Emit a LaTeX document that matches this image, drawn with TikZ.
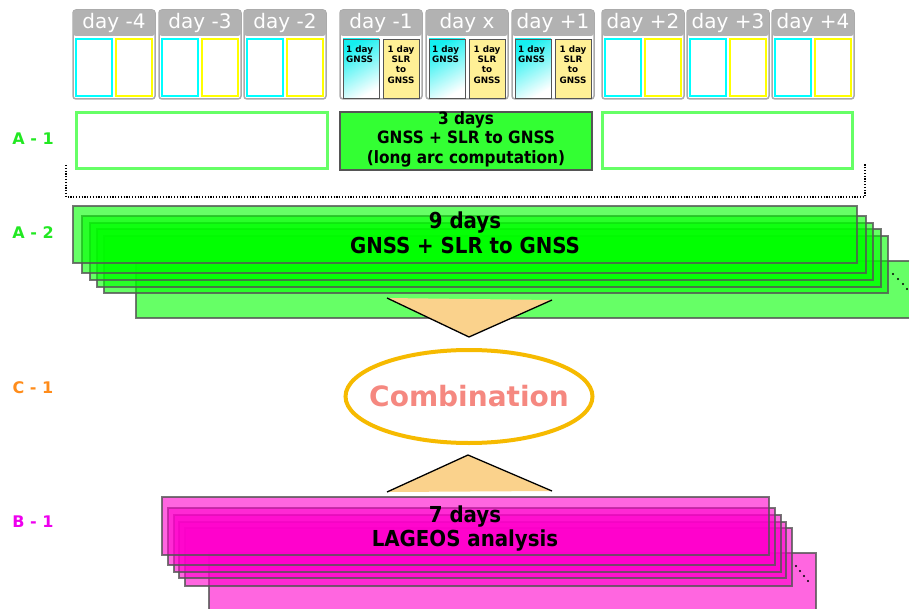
\documentclass[tikz,border=0pt]{standalone}
\usepackage{fontspec}
\setmainfont{DejaVu Sans}
\newfontfamily\condfont{DejaVu Sans Condensed}
\usetikzlibrary{shapes.geometric}
\definecolor{agreen}{RGB}{34,232,34}
\definecolor{corange}{RGB}{255,140,26}
\definecolor{bmag}{RGB}{238,0,238}
\definecolor{gfill}{RGB}{0,255,0}
\definecolor{mfill}{RGB}{255,0,204}
\definecolor{lgreen}{RGB}{102,255,102}
\definecolor{midgreen}{RGB}{51,255,51}
\definecolor{peach}{RGB}{250,210,140}
\definecolor{ellcol}{RGB}{246,186,0}
\definecolor{combcol}{RGB}{245,136,128}
\definecolor{hdrgray}{RGB}{178,178,178}
\definecolor{frmgray}{RGB}{170,170,170}
\definecolor{lyellow}{RGB}{255,240,150}
\definecolor{boxedge}{RGB}{85,85,85}
\definecolor{mycyan}{RGB}{0,255,255}
\definecolor{myyellow}{RGB}{255,255,0}
\definecolor{shcyan}{RGB}{20,240,240}
\tikzset{
  dayframe/.style={draw=frmgray, line width=1.5, fill=white, rounded corners=3},
  dayhead/.style={fill=hdrgray, rounded corners=3},
  daylabel/.style={text=white, font=\fontsize{20}{24}\selectfont, inner sep=0},
  cybox/.style={draw=mycyan, line width=2, minimum width=36, minimum height=57, inner sep=0},
  ylbox/.style={draw=myyellow, line width=2, minimum width=36, minimum height=57, inner sep=0},
  cyshade/.style={draw=boxedge, line width=0.8, minimum width=36, minimum height=59, inner sep=0,
     top color=shcyan, bottom color=white, shading angle=30},
  ylfill/.style={draw=boxedge, line width=0.8, fill=lyellow, minimum width=36, minimum height=59, inner sep=0},
  smalltxt/.style={font=\fontsize{8.8}{10.3}\selectfont\bfseries, inner sep=0, align=center},
  sidebox/.style={draw=lgreen, line width=3, fill=white},
  gstack/.style={fill=gfill, fill opacity=0.6, draw=boxedge, draw opacity=0.8, line width=1.2},
  mstack/.style={fill=mfill, fill opacity=0.6, draw=boxedge, draw opacity=0.8, line width=1.2},
  rowlab/.style={font=\fontsize{16}{19}\selectfont\bfseries, inner sep=0},
  bigtxt/.style={font=\condfont\fontsize{22}{24.5}\selectfont\bfseries, align=center, inner sep=0},
  dotline/.style={line width=1.2, dash pattern=on 1.2pt off 1.6pt},
  tri/.style={fill=peach},
  triedge/.style={draw=black, line width=1.3},
  dotmark/.style={fill=black, circle, inner sep=0, minimum size=2.2}
}
\begin{document}
\begin{tikzpicture}[x=1pt,y=-1pt]
\useasboundingbox (0,0) rectangle (909,609);

% ---- day boxes (plain) ----
\foreach \L/\lab/\nm in {73/{day -4}/m4, 159/{day -3}/m3, 244/{day -2}/m2, 602/{day +2}/p2, 687/{day +3}/p3, 772/{day +4}/p4}{
  \path[dayframe] (\L,10) rectangle (\L+82,99);
  \fill[dayhead] (\L,36) -- (\L,10) -- (\L+82,10) -- (\L+82,36) -- cycle;
  \node[daylabel] (h\nm) at (\L+41,22.5) {\lab};
  \node[cybox] (c\nm) at (\L+21,67.5) {};
  \node[ylbox] (y\nm) at (\L+61,67.5) {};
}
% ---- day boxes (filled) ----
\foreach \L/\lab/\nm in {340/{day -1}/m1, 426/{day x}/x0, 512/{day +1}/p1}{
  \path[dayframe] (\L,10) rectangle (\L+82,99);
  \fill[dayhead] (\L,36) -- (\L,10) -- (\L+82,10) -- (\L+82,36) -- cycle;
  \node[daylabel] (h\nm) at (\L+41,22.5) {\lab};
  \node[cyshade] (c\nm) at (\L+21,68.5) {};
  \node[ylfill] (y\nm) at (\L+61,68.5) {};
  \node[smalltxt, align=left, anchor=north west] (tc\nm) at (\L+6,45.5) {1 day\\GNSS};
  \node[smalltxt, anchor=north] (ty\nm) at (\L+61,45.5) {1 day\\SLR\\to\\GNSS};
}

% ---- A-1 row ----
\node[rowlab, text=agreen] (la1) at (33,139) {A - 1};
\draw[sidebox] (76,113) rectangle (327,169);
\draw[sidebox] (602,113) rectangle (852,169);
\draw[fill=midgreen, draw=boxedge, line width=1.5] (340,112) rectangle (592,170);
\node[bigtxt, font=\condfont\fontsize{17}{19.5}\selectfont\bfseries] (a1txt) at (466,139) {3 days\\GNSS + SLR to GNSS\\(long arc computation)};

% dotted bracket
\coordinate (brA) at (66,165);
\coordinate (brB) at (66,197);
\coordinate (brC) at (865,197);
\coordinate (brD) at (865,163);
\draw[dotline] (brA) -- (brB) -- (brC) -- (brD);

% ---- A-2 stack ----
\node[rowlab, text=agreen] (la2) at (33,233) {A - 2};
\path[gstack] (136,261) rectangle (930,318);
\path[gstack] (104,236) rectangle (888,293);
\path[gstack] (97,229) rectangle (881,287);
\path[gstack] (90,223) rectangle (873,280);
\path[gstack] (82,216) rectangle (866,273);
\path[gstack] (73,206) rectangle (857,263);
\node[bigtxt] (a2txt) at (465,233) {9 days\\GNSS + SLR to GNSS};
\foreach \i/\px/\py in {1/893/274, 2/898/279, 3/903/284, 4/907/289}{
  \node[dotmark] (ga\i) at (\px,\py) {};
}

% ---- down triangle ----
\coordinate (tdl) at (387,298);
\coordinate (tdr) at (552,300);
\coordinate (tdb) at (469,337);
\fill[tri] (tdl) -- (tdr) -- (tdb) -- cycle;
\draw[triedge] (tdl) -- (tdb) -- (tdr);

% ---- combination ----
\node[rowlab, text=corange] (lc1) at (33,388) {C - 1};
\node[ellipse, draw=ellcol, line width=4, minimum width=247, minimum height=93, inner sep=0] (comb) at (469,396.5) {};
\node[text=combcol, font=\fontsize{28}{32}\selectfont\bfseries, inner sep=0] (combtxt) at (comb.center) {Combination};

% ---- up triangle ----
\coordinate (tul) at (387,492);
\coordinate (tur) at (552,491);
\coordinate (tut) at (468,455);
\fill[tri] (tul) -- (tur) -- (tut) -- cycle;
\draw[triedge] (tul) -- (tut) -- (tur);

% ---- B-1 stack ----
\node[rowlab, text=bmag] (lb1) at (33,522) {B - 1};
\path[mstack] (209,553) rectangle (816,625);
\path[mstack] (185,528) rectangle (792,586);
\path[mstack] (179,522) rectangle (786,578);
\path[mstack] (174,515) rectangle (781,572);
\path[mstack] (168,508) rectangle (775,565);
\path[mstack] (162,497) rectangle (769,555);
\node[bigtxt] (b1txt) at (465,528.5) {7 days\\LAGEOS analysis};
\foreach \i/\px/\py in {1/796/566, 2/800/571, 3/804/576, 4/808/581}{
  \node[dotmark] (gb\i) at (\px,\py) {};
}
\end{tikzpicture}
\end{document}
